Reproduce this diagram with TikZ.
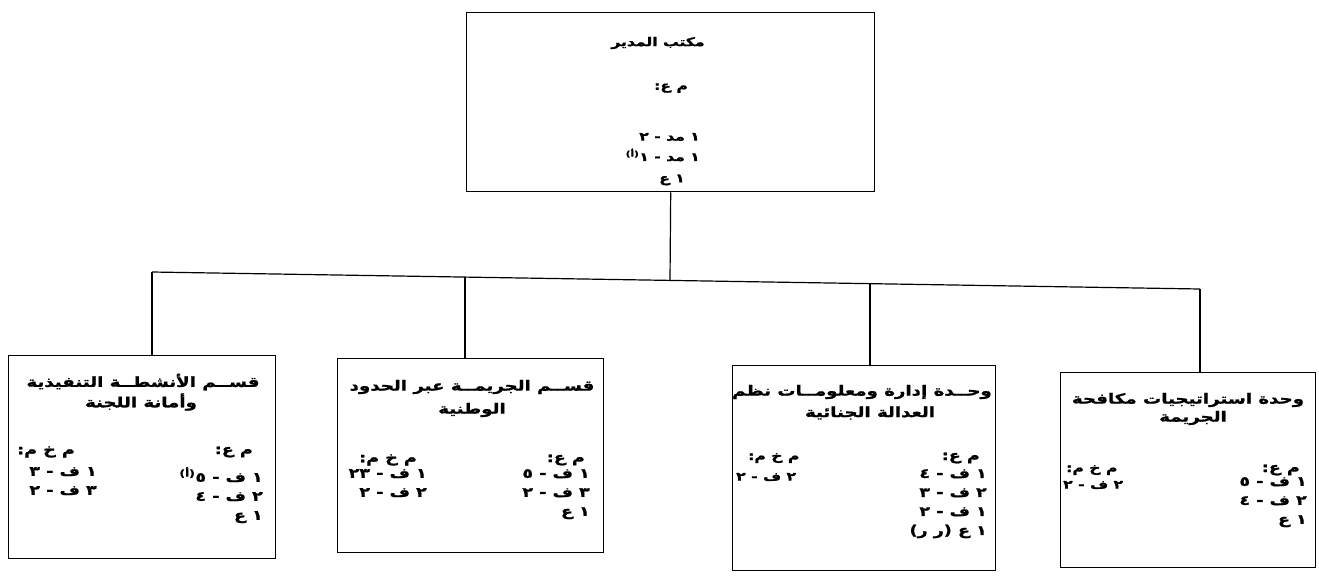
\documentclass[tikz,border=0pt]{standalone}
\usepackage{fontspec}
\TeXXeTstate=1
\newfontfamily\arfont[Script=Arabic, FakeStretch=1.3, BoldFeatures={FakeBold=1.2}]{DejaVu Sans}
\newcommand{\AR}[1]{{\arfont\bfseries\beginR #1\endR}}
\begin{document}
\begin{tikzpicture}[x=1pt,y=-1pt,
  box/.style={draw, line width=1.4pt, inner sep=0pt, anchor=north west},
  conn/.style={line width=1.2pt},
  ttl/.style={inner sep=0pt, font=\fontsize{14}{19}\selectfont},
  lbl/.style={inner sep=0pt, font=\fontsize{13.5}{19}\selectfont, align=right},
  sml/.style={inner sep=0pt, font=\fontsize{12}{19}\selectfont, align=right}]
\useasboundingbox[fill=white] (0,0) rectangle (1319,576);
% boxes
\node[box, minimum width=408pt, minimum height=179pt] (top) at (466,12) {};
\node[box, minimum width=267pt, minimum height=203pt] (b1) at (8,355) {};
\node[box, minimum width=266pt, minimum height=194pt] (b2) at (337,358) {};
\node[box, minimum width=263pt, minimum height=205pt] (b3) at (732,365) {};
\node[box, minimum width=255pt, minimum height=195pt] (b4) at (1060,372) {};
% connectors
\coordinate (busL) at (152,272);
\coordinate (busR) at (1200,289);
\coordinate (j0) at (670,280.4);
\coordinate (j2) at (465,277.1);
\coordinate (j3) at (870,283.6);
\draw[conn] (top.south) -- (j0);
\draw[conn] (busL) -- (busR);
\draw[conn] (busL) -- (busL |- b1.north);
\draw[conn] (j2) -- (j2 |- b2.north);
\draw[conn] (j3) -- (j3 |- b3.north);
\draw[conn] (busR) -- (busR |- b4.north);
% top box text
\node[sml] (t0) at (658,43) {\AR{مكتب المدير}};
\node[sml] (t1) at (671,88) {\AR{م ع:}};
\node[sml, anchor=east] (t2) at (700,137) {\AR{١ مد - ٢}};
\node[sml, anchor=east] (t3) at (700,155) {\AR{١ مد - ١\textsuperscript{(أ)}}};
\node[sml] (t4) at (672,180) {\AR{١ ع}};
% box 1
\node[ttl] (a0) at (143,382) {\AR{قســم الأنشطــة التنفيذية}};
\node[ttl] (a1) at (141,402) {\AR{وأمانة اللجنة}};
\node[lbl, anchor=east] (a2) at (253,452) {\AR{م ع:}};
\node[lbl, anchor=north east] (a3) at (263,467) {\AR{١ ف - ٥\textsuperscript{(أ)}}\\ \AR{٢ ف - ٤}\\ \AR{١ ع}};
\node[lbl, anchor=east] (a4) at (75,452) {\AR{م خ م:}};
\node[lbl, anchor=north east] (a5) at (97,467) {\AR{١ ف - ٣}\\ \AR{٣ ف - ٢}};
% box 2
\node[ttl] (c0) at (472,387) {\AR{قســم الجريمــة عبر الحدود}};
\node[ttl] (c1) at (472,410) {\AR{الوطنية}};
\node[lbl, anchor=east] (c2) at (585,460) {\AR{م ع:}};
\node[lbl, anchor=north east] (c3) at (590,469) {\AR{١ ف - ٥}\\ \AR{٣ ف - ٢}\\ \AR{١ ع}};
\node[lbl, anchor=east] (c4) at (417,460) {\AR{م خ م:}};
\node[lbl, anchor=north east] (c5) at (427,469) {\AR{١ ف - ٢٣}\\ \AR{٢ ف - ٢}};
% box 3
\node[ttl] (d0) at (862,392) {\AR{وحــدة إدارة ومعلومــات نظم}};
\node[ttl] (d1) at (870,413) {\AR{العدالة الجنائية}};
\node[lbl, anchor=east] (d2) at (980,458) {\AR{م ع:}};
\node[lbl, anchor=north east] (d3) at (987,469) {\AR{١ ف - ٤}\\ \AR{٢ ف - ٣}\\ \AR{١ ف - ٢}\\ \AR{١ ع (ر ر)}};
\node[sml, anchor=west] (d4) at (748,458) {\AR{م خ م:}};
\node[sml, anchor=west] (d5) at (736,477) {\AR{٢ ف - ٢}};
% box 4
\node[ttl] (e0) at (1188,400) {\AR{وحدة استراتيجيات مكافحة}};
\node[ttl] (e1) at (1193,418) {\AR{الجريمة}};
\node[lbl, anchor=east] (e2) at (1300,470) {\AR{م ع:}};
\node[lbl, anchor=north east] (e3) at (1307,477) {\AR{١ ف - ٥}\\ \AR{٢ ف - ٤}\\ \AR{١ ع}};
\node[sml, anchor=west] (e4) at (1066,470) {\AR{م خ م:}};
\node[sml, anchor=west] (e5) at (1063,485) {\AR{٢ ف - ٢}};
\end{tikzpicture}
\end{document}
